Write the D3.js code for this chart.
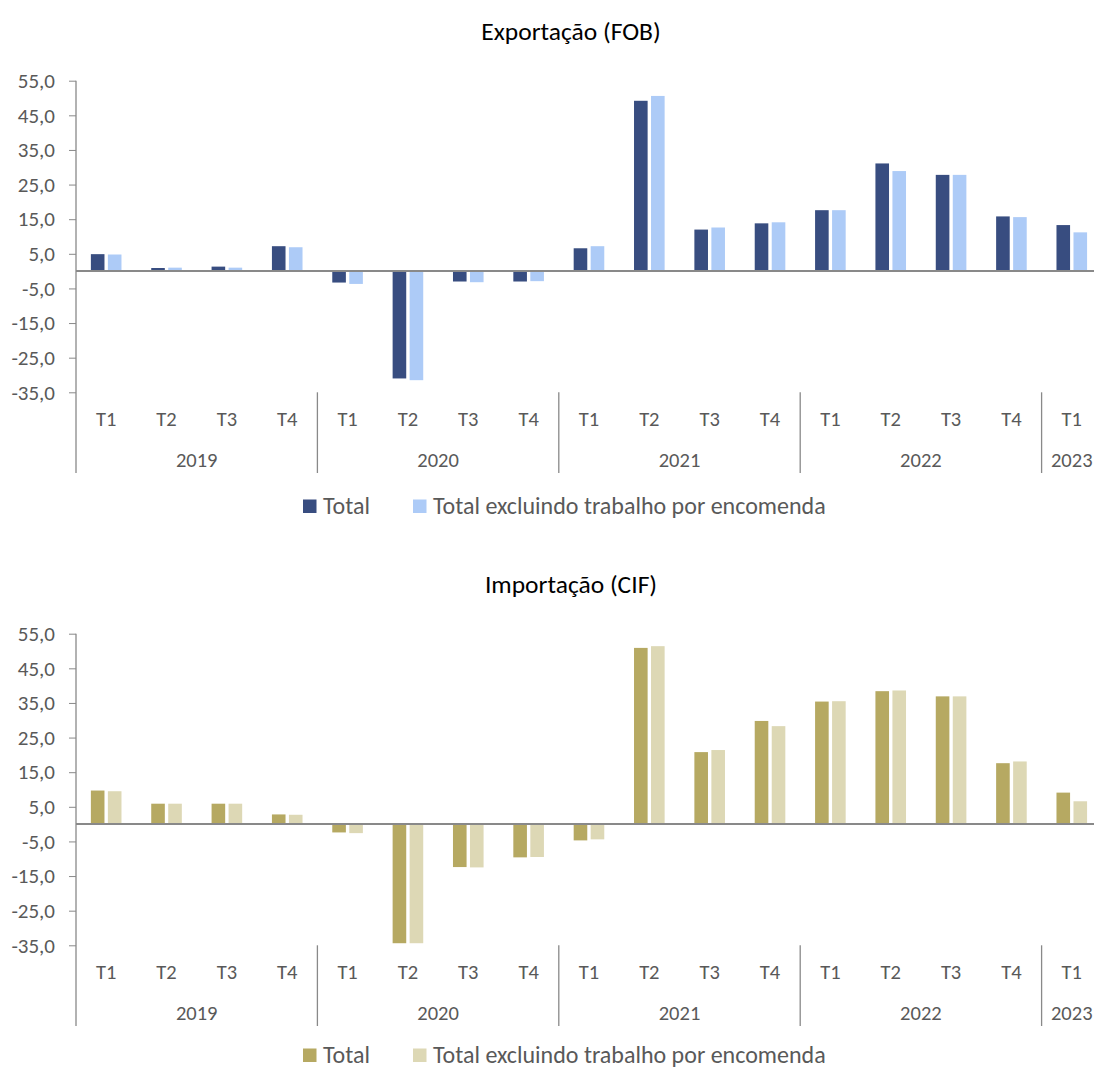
<!DOCTYPE html>
<html lang="pt">
<head>
<meta charset="utf-8">
<title>Exportação e Importação – taxas de variação trimestrais</title>
<script src="https://cdn.jsdelivr.net/npm/d3@7"></script>
<style>
  html, body { margin: 0; padding: 0; background: #ffffff; }
  svg { display: block; font-family: Carlito, Calibri, Lato, "Open Sans", sans-serif; }
</style>
</head>
<body>
<svg id="chart" width="1094" height="1070"></svg>
<script>
// Quarterly categories, grouped by year
const quarters = ["T1","T2","T3","T4","T1","T2","T3","T4","T1","T2","T3","T4","T1","T2","T3","T4","T1"];
const years = ["2019","2020","2021","2022","2023"];
const yearSpans = [4, 4, 4, 4, 1];

// Series names (legend)
const seriesNames = ["Total", "Total excluindo trabalho por encomenda"];

// Exportação (FOB), %
const exportTotal = [4.9, 0.9, 1.3, 7.2, -3.3, -31.0, -3.0, -3.0, 6.6, 49.2, 12.0, 13.8, 17.6, 31.1, 27.8, 15.8, 13.3];
const exportExcl  = [4.8, 1.0, 1.0, 6.9, -3.7, -31.5, -3.2, -2.9, 7.2, 50.6, 12.6, 14.1, 17.6, 28.9, 27.8, 15.6, 11.2];

// Importação (CIF), %
const importTotal = [9.7, 5.9, 5.9, 2.8, -2.4, -34.4, -12.4, -9.6, -4.7, 50.9, 20.8, 29.8, 35.4, 38.4, 36.9, 17.6, 9.1];
const importExcl  = [9.5, 5.9, 5.9, 2.7, -2.6, -34.4, -12.5, -9.5, -4.4, 51.4, 21.4, 28.3, 35.5, 38.6, 36.9, 18.1, 6.6];

// Value axis ticks
const yTicks = [55, 45, 35, 25, 15, 5, -5, -15, -25, -35];

const locale = d3.formatLocale({ decimal: ",", thousands: ".", grouping: [3], currency: ["", " €"], minus: "-" });
const fmt = locale.format(".1f");

const svg = d3.select("#chart");
const axisColor = "#898989";
const textColor = "#595959";

const left = 76;
const bandW = 60.35;
const x = d3.scaleBand()
  .domain(d3.range(quarters.length))
  .range([left, left + bandW * quarters.length])
  .paddingInner(0).paddingOuter(0);

const barW = 13.6, barGap = 3.4;

function drawPanel(offsetY, title, totals, excls, colors, legendY) {
  const g = svg.append("g").attr("transform", `translate(0,${offsetY})`);
  const y = d3.scaleLinear().domain([-35, 55]).range([392.3, 80.7]);
  const plotBottom = y(-35);
  const axisBottom = 473;

  // Title
  g.append("text")
    .attr("x", 571).attr("y", 31)
    .attr("dy", "0.35em")
    .attr("text-anchor", "middle")
    .attr("font-size", 25.5)
    .attr("fill", "#000000")
    .text(title);

  // Value axis
  const yAxis = d3.axisLeft(y)
    .tickValues(yTicks)
    .tickSize(7)
    .tickPadding(14)
    .tickFormat(fmt);
  const ag = g.append("g").attr("transform", `translate(${left},0)`).call(yAxis);
  ag.attr("font-family", null).attr("font-size", null);
  ag.select(".domain").remove();
  ag.selectAll(".tick line").attr("stroke", axisColor).attr("stroke-width", 1);
  ag.selectAll(".tick text")
    .attr("fill", textColor)
    .attr("font-size", 21);

  // Vertical axis line, extending through the category labels
  g.append("line")
    .attr("x1", left).attr("x2", left)
    .attr("y1", y(55)).attr("y2", axisBottom)
    .attr("stroke", axisColor).attr("stroke-width", 1.3);

  // Bars
  const rows = quarters.map((q, i) => ({ i, a: totals[i], b: excls[i] }));
  const bars = g.append("g");
  const pairW = barW * 2 + barGap;
  bars.selectAll("rect.a").data(rows).join("rect")
    .attr("class", "a")
    .attr("x", d => x(d.i) + (bandW - pairW) / 2)
    .attr("width", barW)
    .attr("y", d => y(Math.max(0, d.a)))
    .attr("height", d => Math.abs(y(d.a) - y(0)))
    .attr("fill", colors[0]);
  bars.selectAll("rect.b").data(rows).join("rect")
    .attr("class", "b")
    .attr("x", d => x(d.i) + (bandW - pairW) / 2 + barW + barGap)
    .attr("width", barW)
    .attr("y", d => y(Math.max(0, d.b)))
    .attr("height", d => Math.abs(y(d.b) - y(0)))
    .attr("fill", colors[1]);

  // Zero line
  g.append("line")
    .attr("x1", left).attr("x2", x.range()[1])
    .attr("y1", y(0)).attr("y2", y(0))
    .attr("stroke", axisColor).attr("stroke-width", 2);

  // Quarter labels
  g.append("g").selectAll("text").data(quarters).join("text")
    .attr("x", (d, i) => x(i) + bandW / 2)
    .attr("y", 419)
    .attr("dy", "0.35em")
    .attr("text-anchor", "middle")
    .attr("font-size", 20.5)
    .attr("fill", textColor)
    .text(d => d);

  // Year labels and separators
  let start = 0;
  const yearG = g.append("g");
  years.forEach((yr, k) => {
    const x0 = x(start), x1 = x(start) + bandW * yearSpans[k];
    yearG.append("text")
      .attr("x", (x0 + x1) / 2)
      .attr("y", 459.5)
      .attr("dy", "0.35em")
      .attr("text-anchor", "middle")
      .attr("font-size", 20.5)
      .attr("fill", textColor)
      .text(yr);
    if (k > 0) {
      yearG.append("line")
        .attr("x1", x0).attr("x2", x0)
        .attr("y1", plotBottom).attr("y2", axisBottom)
        .attr("stroke", axisColor).attr("stroke-width", 1.3);
    }
    start += yearSpans[k];
  });

  // Legend
  const lg = g.append("g").attr("transform", `translate(0,${legendY})`);
  const items = [
    { name: seriesNames[0], color: colors[0], x: 303 },
    { name: seriesNames[1], color: colors[1], x: 413 }
  ];
  items.forEach(it => {
    lg.append("rect")
      .attr("x", it.x).attr("y", -6.5)
      .attr("width", 13.5).attr("height", 13.5)
      .attr("fill", it.color);
    lg.append("text")
      .attr("x", it.x + 20).attr("y", 0)
      .attr("dy", "0.35em")
      .attr("font-size", 24)
      .attr("fill", textColor)
      .text(it.name);
  });
}

drawPanel(0, "Exportação (FOB)", exportTotal, exportExcl, ["#384D80", "#ADCBF7"], 506);
drawPanel(553, "Importação (CIF)", importTotal, importExcl, ["#B6A962", "#DDD8B5"], 502);
</script>
</body>
</html>
